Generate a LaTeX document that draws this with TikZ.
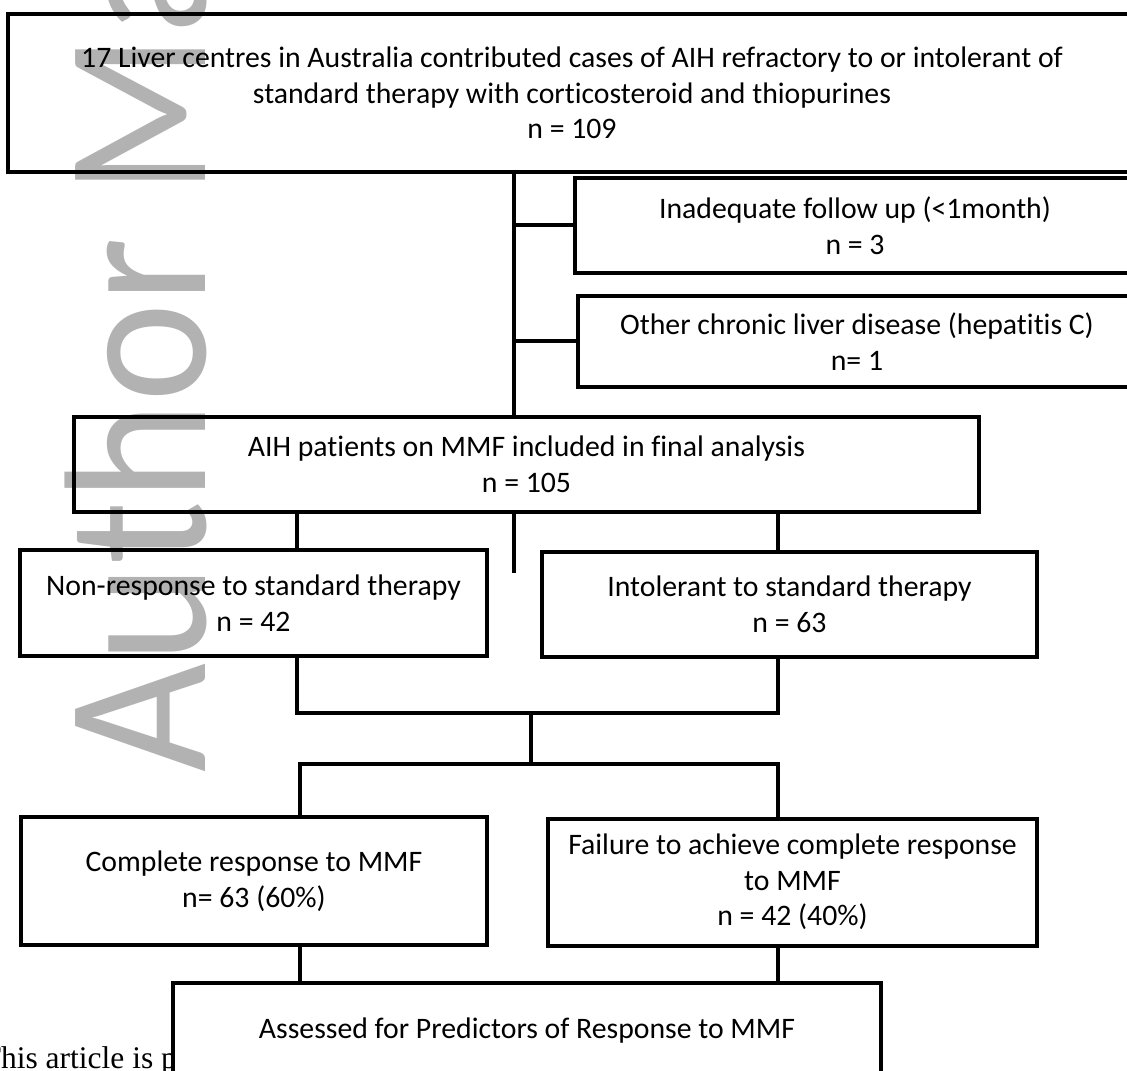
\documentclass[tikz,border=0pt]{standalone}
\usepackage{fontspec}
\setmainfont{Carlito}[Ligatures=CommonOff]
\newfontfamily\notefont{Liberation Serif}
\begin{document}
\begin{tikzpicture}[x=0.4pt, y=-0.4pt,
    box/.style={draw, line width=1.6pt, inner sep=0pt, align=center, font=\fontsize{11.9}{14.2}\selectfont},
    link/.style={line width=1.6pt},
    shadowline/.style={draw=black!35, line width=1.6pt, yshift=-2pt}]
\useasboundingbox (0,0) rectangle (1127,1071);
\node (wm) [rotate=90, xscale=.93, anchor=base west, text=black!30, font=\fontsize{81}{81}\selectfont] at (205,781) {Author Manuscript};

\node (top) [box, minimum width=451.2pt, minimum height=63.2pt] at (572,93) {17 Liver centres in Australia contributed cases of AIH refractory to or intolerant of\\ standard therapy with corticosteroid and thiopurines\\ n = 109};
\node (excl1) [box, minimum width=224pt, minimum height=38pt] at (855,225.5) {Inadequate follow up (<1month)\\ n = 3};
\node (excl2) [box, minimum width=223.2pt, minimum height=36.4pt] at (857,341.5) {Other chronic liver disease (hepatitis C)\\ n= 1};
\node (aih) [box, minimum width=362pt, minimum height=38pt] at (526.5,464.5) {AIH patients on MMF included in final analysis\\ n = 105};
\node (nonresp) [box, minimum width=186.8pt, minimum height=42.4pt] at (253.5,603) {Non-response to standard therapy\\ n = 42};
\node (intol) [box, minimum width=198pt, minimum height=42pt] at (789.5,604.5) {Intolerant to standard therapy\\ n = 63};
\node (complete) [box, minimum width=186.4pt, minimum height=51.2pt] at (254,881) {Complete response to MMF\\ n= 63 (60\%)};
\node (failure) [box, minimum width=195.6pt, minimum height=50.8pt] at (792.5,882) {Failure to achieve complete response\\ to MMF\\ n = 42 (40\%)};
\node (note) [anchor=base west, font=\notefont\fontsize{12.6}{14}\selectfont] at (-27,1068) {This article is p};
\node (assess) [box, fill=white, minimum width=283.2pt, minimum height=38.4pt] at (527,1031) {Assessed for Predictors of Response to MMF};

\coordinate (trunk) at (514,172);
\coordinate (stub) at (514,573);
\coordinate (jl) at (297,713);
\coordinate (jm) at (531,713);
\coordinate (jr) at (778,713);
\coordinate (kl) at (300,764);
\coordinate (kr) at (778,764);

\draw[shadowline] (trunk |- excl1.west) -- (excl1.west);
\draw[shadowline] (trunk |- excl2.west) -- (excl2.west);
\draw[shadowline] (jl) -- (jr);

\draw[link] (trunk) -- (trunk |- aih.north);
\draw[link] (excl1.west) -- (trunk |- excl1.west);
\draw[link] (excl2.west) -- (trunk |- excl2.west);
\draw[link] (trunk |- aih.south) -- (stub);
\draw[link] (jl |- aih.south) -- (jl |- nonresp.north);
\draw[link] (jr |- aih.south) -- (jr |- intol.north);
\draw[link] (jl |- nonresp.south) -- (jl) -- (jr) -- (jr |- intol.south);
\draw[link] (jm) -- (jm |- kl);
\draw[link] (kl |- complete.north) -- (kl) -- (kr) -- (kr |- failure.north);
\draw[link] (kl |- complete.south) -- (kl |- assess.north);
\draw[link] (kr |- failure.south) -- (kr |- assess.north);
\end{tikzpicture}
\end{document}
